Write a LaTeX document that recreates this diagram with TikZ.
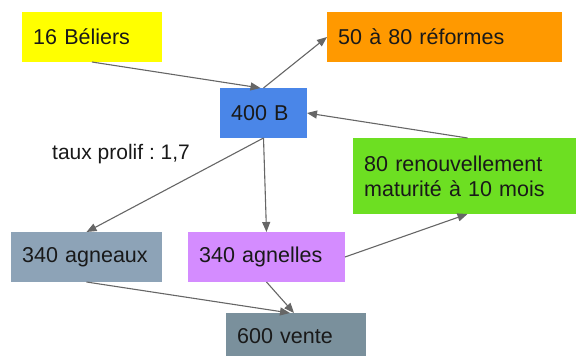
\documentclass[tikz,border=0pt]{standalone}
\usepackage{fontspec}
\setmainfont{Liberation Sans}
\usetikzlibrary{arrows.meta,positioning}
\definecolor{cbel}{HTML}{FFFF00}
\definecolor{cref}{HTML}{FF9900}
\definecolor{cb}{HTML}{4A86E8}
\definecolor{cren}{HTML}{6DDF22}
\definecolor{cagx}{HTML}{8DA3B7}
\definecolor{cagl}{HTML}{D48CFF}
\definecolor{cven}{HTML}{7A909C}
\definecolor{carr}{HTML}{666666}
\frenchspacing
\tikzset{
  box/.style={anchor=north west, inner xsep=11pt, inner ysep=0pt, align=left,
    font=\fontsize{21.5}{25}\selectfont, text=black!90},
  arr/.style={draw=carr, line width=1.1pt, -{Triangle[length=10pt,width=8pt]}},
}
\newcommand{\mybox}[7]{% name, color, x1, y1, x2, y2, text
  \fill[#2] (#3,#4) rectangle (#5,#6);
  \node[box, anchor=west, text width={#5-#3-22}] (#1) at (#3,{(#4+#6)/2}) {#7};
  \coordinate (#1-n) at ({(#3+#5)/2},#4);
  \coordinate (#1-s) at ({(#3+#5)/2},#6);
  \coordinate (#1-w) at (#3,{(#4+#6)/2});
  \coordinate (#1-e) at (#5,{(#4+#6)/2});
}
\begin{document}
\begin{tikzpicture}[x=1pt,y=-1pt]
\useasboundingbox (0,0) rectangle (576,356);
\clip (0,0) rectangle (576,356);
\mybox{bel}{cbel}{22}{12}{162}{62}{16 Béliers}
\mybox{ref}{cref}{327}{12}{562}{62}{50 à 80 réformes}
\mybox{bb}{cb}{220}{88}{307}{138}{400 B}
\mybox{ren}{cren}{353}{138}{582}{214}{80 renouvellement\\maturité à 10 mois}
\mybox{agx}{cagx}{11}{232}{162}{282}{340 agneaux}
\mybox{agl}{cagl}{188}{232}{345}{282}{340 agnelles}
\mybox{ven}{cven}{226}{313}{366}{360}{600 vente}
\node[anchor=west, inner sep=0pt, font=\fontsize{21}{24}\selectfont, text=black!90] (taux) at (52,154) {taux prolif : 1,7};
\draw[arr] (bel-s) -- ([xshift=-3pt]bb-n);
\draw[arr] (bb-n) -- (ref-w);
\draw[arr] (ren-n) -- (bb-e);
\draw[arr] (bb-s) -- (agx-n);
\draw[arr] (bb-s) -- (agl-n);
\draw[arr] (agl-e) -- (ren-s);
\draw[arr] (agx-s) -- ([xshift=-6pt]ven-n);
\draw[arr] (agl-s) -- ([xshift=-2pt]ven-n);
\end{tikzpicture}
\end{document}
